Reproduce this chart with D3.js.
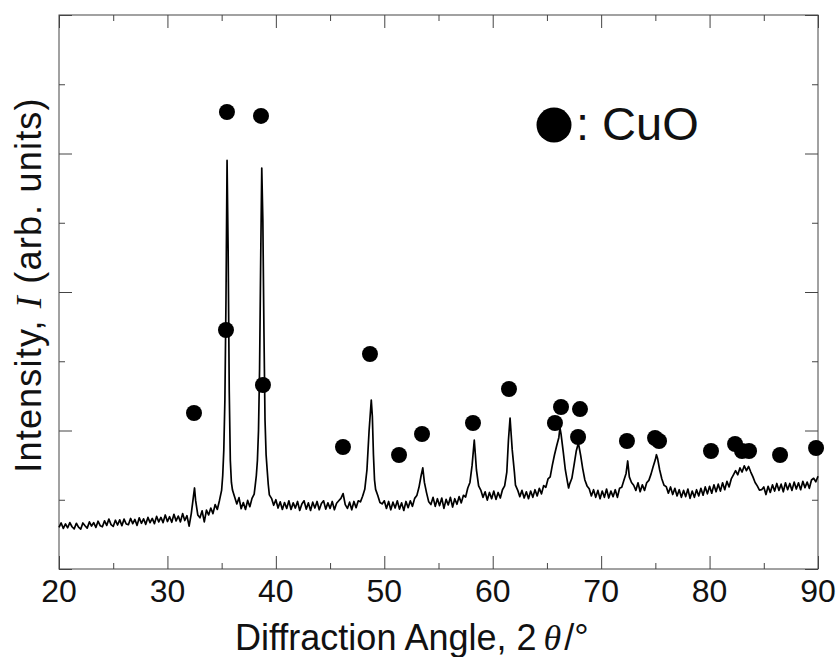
<!DOCTYPE html>
<html>
<head>
<meta charset="utf-8">
<script src="https://cdn.jsdelivr.net/npm/d3@7"></script>
<style>
  body { margin: 0; background: #fff; }
  text { font-family: "Liberation Sans", Arial, sans-serif; fill: #111; }
</style>
</head>
<body>
<script>
// XRD pattern (2theta in degrees, counts in arb. units)
const twoTheta = [
  20.0, 20.2, 20.4, 20.6, 20.8, 21.0, 21.2, 21.4, 21.6, 21.8, 22.0, 22.2, 22.4, 22.6, 22.8,
  23.0, 23.2, 23.4, 23.6, 23.8, 24.0, 24.2, 24.4, 24.6, 24.8, 25.0, 25.2, 25.4, 25.6, 25.8,
  26.0, 26.2, 26.4, 26.6, 26.8, 27.0, 27.2, 27.4, 27.6, 27.8, 28.0, 28.2, 28.4, 28.6, 28.8,
  29.0, 29.2, 29.4, 29.6, 29.8, 30.0, 30.2, 30.4, 30.6, 30.8, 31.0, 31.2, 31.4, 31.6, 31.8,
  32.0, 32.2, 32.4, 32.5, 32.6, 32.8, 33.0, 33.2, 33.4, 33.6, 33.8, 34.0, 34.2, 34.4, 34.6,
  34.8, 35.0, 35.1, 35.2, 35.3, 35.4, 35.5, 35.6, 35.7, 35.8, 35.9, 36.0, 36.2, 36.4, 36.6,
  36.8, 37.0, 37.2, 37.4, 37.6, 37.8, 38.0, 38.1, 38.2, 38.3, 38.4, 38.5, 38.6, 38.7, 38.8,
  38.9, 39.0, 39.1, 39.2, 39.3, 39.4, 39.6, 39.8, 40.0, 40.2, 40.4, 40.6, 40.8, 41.0, 41.2,
  41.4, 41.6, 41.8, 42.0, 42.2, 42.4, 42.6, 42.8, 43.0, 43.2, 43.4, 43.6, 43.8, 44.0, 44.2,
  44.4, 44.6, 44.8, 45.0, 45.2, 45.4, 45.6, 45.8, 46.0, 46.2, 46.4, 46.6, 46.8, 47.0, 47.2,
  47.4, 47.6, 47.8, 48.0, 48.2, 48.4, 48.6, 48.8, 48.9, 49.0, 49.1, 49.2, 49.4, 49.6, 49.8,
  50.0, 50.2, 50.4, 50.6, 50.8, 51.0, 51.2, 51.4, 51.6, 51.8, 52.0, 52.2, 52.4, 52.6, 52.8,
  53.0, 53.2, 53.4, 53.55, 53.7, 53.9, 54.1, 54.3, 54.5, 54.7, 54.9, 55.1, 55.3, 55.5, 55.7,
  55.9, 56.1, 56.3, 56.5, 56.7, 56.9, 57.1, 57.3, 57.5, 57.7, 57.9, 58.1, 58.3, 58.4, 58.5,
  58.7, 58.9, 59.1, 59.3, 59.5, 59.7, 59.9, 60.1, 60.3, 60.5, 60.7, 60.9, 61.1, 61.3, 61.45,
  61.6, 61.7, 61.8, 62.0, 62.1, 62.3, 62.5, 62.7, 62.9, 63.1, 63.3, 63.5, 63.7, 63.9, 64.1,
  64.3, 64.5, 64.7, 64.9, 65.1, 65.3, 65.5, 65.7, 65.9, 66.1, 66.2, 66.3, 66.5, 66.7, 66.9,
  67.0, 67.1, 67.3, 67.5, 67.7, 67.9, 68.1, 68.3, 68.5, 68.7, 68.9, 69.1, 69.3, 69.5, 69.7,
  69.9, 70.1, 70.3, 70.5, 70.7, 70.9, 71.1, 71.3, 71.5, 71.7, 71.9, 72.1, 72.3, 72.45, 72.6,
  72.8, 73.0, 73.2, 73.4, 73.6, 73.8, 74.0, 74.2, 74.4, 74.6, 74.8, 75.0, 75.1, 75.2, 75.4,
  75.6, 75.8, 76.0, 76.2, 76.4, 76.6, 76.8, 77.0, 77.2, 77.4, 77.6, 77.8, 78.0, 78.2, 78.4,
  78.6, 78.8, 79.0, 79.2, 79.4, 79.6, 79.8, 80.0, 80.2, 80.4, 80.6, 80.8, 81.0, 81.2, 81.4,
  81.6, 81.8, 82.0, 82.2, 82.4, 82.6, 82.8, 83.0, 83.2, 83.4, 83.6, 83.8, 84.0, 84.2, 84.4,
  84.6, 84.8, 85.0, 85.2, 85.4, 85.6, 85.8, 86.0, 86.2, 86.4, 86.6, 86.8, 87.0, 87.2, 87.4,
  87.6, 87.8, 88.0, 88.2, 88.4, 88.6, 88.8, 89.0, 89.2, 89.4, 89.6, 89.8, 90.0
]
const counts = [
  600, 665, 585, 650, 595, 670, 610, 580, 660, 605, 575, 665, 625, 590, 680,
  620, 670, 600, 690, 625, 610, 695, 630, 720, 640, 615, 705, 635, 710, 625,
  720, 650, 640, 730, 655, 715, 630, 740, 660, 725, 645, 745, 670, 730, 655,
  760, 680, 745, 670, 780, 685, 755, 675, 790, 695, 765, 680, 800, 700, 770,
  620, 800, 1050, 1170, 990, 780, 740, 840, 680, 850, 780, 880, 800, 930, 860,
  990, 1140, 1350, 1720, 2440, 3880, 5900, 4590, 2580, 1570, 1250, 1140, 1040, 940, 1030,
  870, 960, 860, 990, 900, 1020, 1080, 1210, 1350, 1570, 2000, 2900, 4440, 5790, 5040,
  3450, 2150, 1650, 1430, 1220, 1070, 1020, 920, 1000, 880, 970, 860, 960, 875, 985,
  860, 955, 880, 975, 845, 940, 985, 865, 955, 845, 965, 880, 975, 855, 945,
  985, 865, 955, 875, 975, 855, 950, 985, 1020, 1090, 930, 875, 965, 855, 975,
  885, 985, 970, 1050, 1150, 1430, 2000, 2440, 2200, 1650, 1285, 1150, 1060, 960, 940,
  985, 875, 975, 855, 965, 880, 985, 865, 955, 845, 975, 885, 985, 905, 1020,
  1060, 1180, 1350, 1460, 1250, 1100, 970, 930, 1035, 905, 1015, 915, 1025, 875, 1005,
  925, 1035, 895, 1015, 935, 1045, 955, 1065, 1040, 1170, 1250, 1500, 1860, 1650, 1430,
  1200, 1140, 1035, 1115, 995, 1105, 1015, 1125, 1005, 1105, 1025, 1145, 1200, 1400, 1860,
  2180, 1950, 1720, 1400, 1210, 1140, 1045, 1135, 1025, 1115, 1015, 1125, 1035, 1145, 1055,
  1165, 1085, 1205, 1180, 1300, 1330, 1500, 1650, 1780, 1900, 2040, 1950, 1700, 1430, 1250,
  1170, 1230, 1310, 1500, 1700, 1820, 1650, 1450, 1285, 1200, 1160, 1055, 1145, 1035, 1135,
  1015, 1125, 1035, 1155, 1025, 1125, 1045, 1145, 1035, 1165, 1180, 1280, 1380, 1560, 1330,
  1250, 1210, 1135, 1245, 1115, 1215, 1135, 1245, 1280, 1370, 1480, 1580, 1650, 1600, 1430,
  1300, 1210, 1190, 1095, 1185, 1075, 1165, 1055, 1145, 1035, 1135, 1045, 1155, 1020, 1125,
  1035, 1145, 1055, 1165, 1065, 1185, 1085, 1195, 1095, 1215, 1115, 1225, 1125, 1245, 1145,
  1265, 1185, 1300, 1360, 1420, 1360, 1460, 1400, 1490, 1420, 1480, 1400, 1330, 1250, 1200,
  1140, 1145, 1185, 1075, 1195, 1105, 1215, 1125, 1235, 1135, 1225, 1115, 1245, 1145, 1235,
  1135, 1255, 1155, 1245, 1145, 1265, 1175, 1255, 1165, 1285, 1310, 1260, 1340
]

// CuO peak markers
const markerAngle = [32.45, 35.49, 35.40, 38.63, 38.81, 46.19, 48.68, 51.36, 53.48, 58.18,
  61.50, 65.74, 66.30, 68.05, 67.87, 72.38, 74.97, 75.34, 80.13, 82.35, 82.99, 83.64, 86.50, 89.82]
const markerLevel = [2253, 6599, 3451, 6542, 2657, 1762, 3105, 1646, 1949, 2108,
  2599, 2108, 2339, 2310, 1906, 1848, 1892, 1848, 1704, 1805, 1704, 1704, 1646, 1747]

const xMajor = [20, 30, 40, 50, 60, 70, 80, 90]
const xMinor = [25, 35, 45, 55, 65, 75, 85]
const yMajor = [0, 2000, 4000, 6000, 8000]
const yMinor = [1000, 3000, 5000, 7000]
const legendLabel = ': CuO'

const width = 839
const height = 657
const margin = { left: 59, right: 21, top: 15, bottom: 88 }

const svg = d3.select('body').append('svg')
  .attr('width', width)
  .attr('height', height)

const x = d3.scaleLinear().domain([20, 90]).range([margin.left, width - margin.right])
const y = d3.scaleLinear().domain([0, 8000]).range([height - margin.bottom, margin.top])

const axisColor = '#444'

// tick marks all point inward, on all four sides
function ticks(axis, vals, size) {
  return axis.tickValues(vals).tickSizeInner(-size).tickSizeOuter(0).tickFormat('')
}

const bottomAxis = svg.append('g').attr('transform', `translate(0,${y(0)})`)
bottomAxis.append('g').call(ticks(d3.axisBottom(x), xMajor, 13))
bottomAxis.append('g').call(ticks(d3.axisBottom(x), xMinor, 6))
const topAxis = svg.append('g').attr('transform', `translate(0,${y(8000)})`)
topAxis.append('g').call(ticks(d3.axisTop(x), xMajor, 13))
topAxis.append('g').call(ticks(d3.axisTop(x), xMinor, 6))
const leftAxis = svg.append('g').attr('transform', `translate(${x(20)},0)`)
leftAxis.append('g').call(ticks(d3.axisLeft(y), yMajor, 13))
leftAxis.append('g').call(ticks(d3.axisLeft(y), yMinor, 6))
const rightAxis = svg.append('g').attr('transform', `translate(${x(90)},0)`)
rightAxis.append('g').call(ticks(d3.axisRight(y), yMajor, 13))
rightAxis.append('g').call(ticks(d3.axisRight(y), yMinor, 6))

svg.selectAll('.domain').remove()
svg.selectAll('.tick line').attr('stroke', axisColor).attr('stroke-width', 1)

// tick labels
svg.append('g').selectAll('text')
  .data(xMajor)
  .enter()
  .append('text')
  .attr('x', d => x(d))
  .attr('y', y(0) + 33)
  .attr('text-anchor', 'middle')
  .style('font-size', '32px')
  .text(d => d)

// frame
svg.append('rect')
  .attr('x', x(20))
  .attr('y', y(8000))
  .attr('width', x(90) - x(20))
  .attr('height', y(0) - y(8000))
  .attr('fill', 'none')
  .attr('stroke', axisColor)
  .attr('stroke-width', 1)

// pattern
const pattern = twoTheta.map((t, i) => [t, counts[i]])
svg.append('path')
  .datum(pattern)
  .attr('fill', 'none')
  .attr('stroke', '#000')
  .attr('stroke-width', 1.7)
  .attr('stroke-linejoin', 'round')
  .attr('d', d3.line().x(d => x(d[0])).y(d => y(d[1])))

// markers
svg.append('g').selectAll('circle')
  .data(markerAngle)
  .enter()
  .append('circle')
  .attr('cx', d => x(d))
  .attr('cy', (d, i) => y(markerLevel[i]))
  .attr('r', 8)
  .attr('fill', '#000')

// legend
svg.append('circle')
  .attr('cx', 554)
  .attr('cy', 125)
  .attr('r', 17.5)
  .attr('fill', '#000')
svg.append('text')
  .attr('x', 576)
  .attr('y', 140)
  .style('font-size', '47px')
  .text(legendLabel)

// axis titles
const xt = svg.append('text')
  .attr('x', 235)
  .attr('y', 650)
  .style('font-size', '36px')
xt.append('tspan').text('Diffraction Angle, 2')
xt.append('tspan').attr('dx', 7).style('font-family', '"Liberation Serif", serif').style('font-style', 'italic').text('θ')
xt.append('tspan').attr('dx', 3).text('/°')

const yt = svg.append('text')
  .attr('transform', 'translate(41,285) rotate(-90)')
  .attr('text-anchor', 'middle')
  .style('font-size', '36px')
  .style('letter-spacing', '1.2px')
yt.append('tspan').text('Intensity, ')
yt.append('tspan').style('font-family', '"Liberation Serif", serif').style('font-style', 'italic').text('I')
yt.append('tspan').text(' (arb. units)')
</script>
</body>
</html>
